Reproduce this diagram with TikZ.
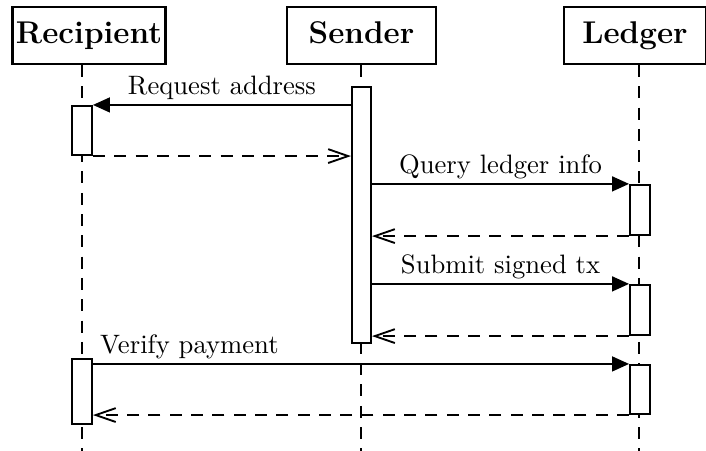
\documentclass[tikz,border=0pt]{standalone}
\usetikzlibrary{arrows.meta}
\begin{document}
\begin{tikzpicture}[x=0.3755pt,y=-0.3755pt,
  every path/.style={line width=0.7pt},
  head/.style={draw,line width=0.8pt,font=\fontsize{11.8}{14}\selectfont\bfseries,
    inner xsep=1.2pt,inner ysep=5pt,text height=8.5pt,text depth=2.8pt},
  act/.style={draw,fill=white,line width=0.8pt,inner sep=0pt,minimum width=7.4pt},
  life/.style={dash pattern=on 4.5pt off 3.5pt},
  msg/.style={-{Triangle[length=6.4pt,width=5.6pt]}},
  ret/.style={dash pattern=on 4.5pt off 3.5pt,-{Straight Barb[length=7.5pt,width=5.2pt]}},
  lbl/.style={font=\fontsize{10}{12}\selectfont,inner sep=1.5pt}]
\useasboundingbox (0,0) rectangle (706,451);
% headers
\node[head,minimum width=57.5pt] (rh) at (89,35.5) {Recipient};
\node[head,minimum width=56pt] (sh) at (361.5,35.5) {Sender};
\node[head,minimum width=53pt] (lh) at (635,35.5) {Ledger};
% lifeline ends
\coordinate (rb) at (82,451);
\coordinate (sb) at (361,451);
\coordinate (lb) at (639,451);
\draw[life] (rh.south -| rb) -- (rb);
\draw[life] (sh.south -| sb) -- (sb);
\draw[life] (lh.south -| lb) -- (lb);
% activations
\node[act,minimum height=18.4pt] (ra1) at (82,130.5) {};
\node[act,minimum height=24.4pt] (ra2) at (82,391.5) {};
\node[act,minimum height=96.1pt,minimum width=7.1pt] (sa) at (361.5,215) {};
\node[act,minimum height=18.8pt] (la1) at (640,210) {};
\node[act,minimum height=18.8pt] (la2) at (640,310) {};
\node[act,minimum height=18.4pt] (la3) at (640,389.5) {};
% messages
\draw[msg] (sa.west |- ra1.north east) -- node[lbl,above] {Request address} (ra1.north east);
\draw[ret] (ra1.south east) -- (sa.west |- ra1.south east);
\draw[msg] (sa.east |- la1.north west) -- node[lbl,above] {Query ledger info} (la1.north west);
\draw[ret] (la1.south west) -- (sa.east |- la1.south west);
\draw[msg] (sa.east |- la2.north west) -- node[lbl,above] {Submit signed tx} (la2.north west);
\draw[ret] (la2.south west) -- (sa.east |- la2.south west);
\draw[msg] (ra2.east |- la3.north west) -- node[lbl,above,pos=0.18] {Verify payment} (la3.north west);
\draw[ret] (la3.south west) -- (ra2.east |- la3.south west);
\end{tikzpicture}
\end{document}
